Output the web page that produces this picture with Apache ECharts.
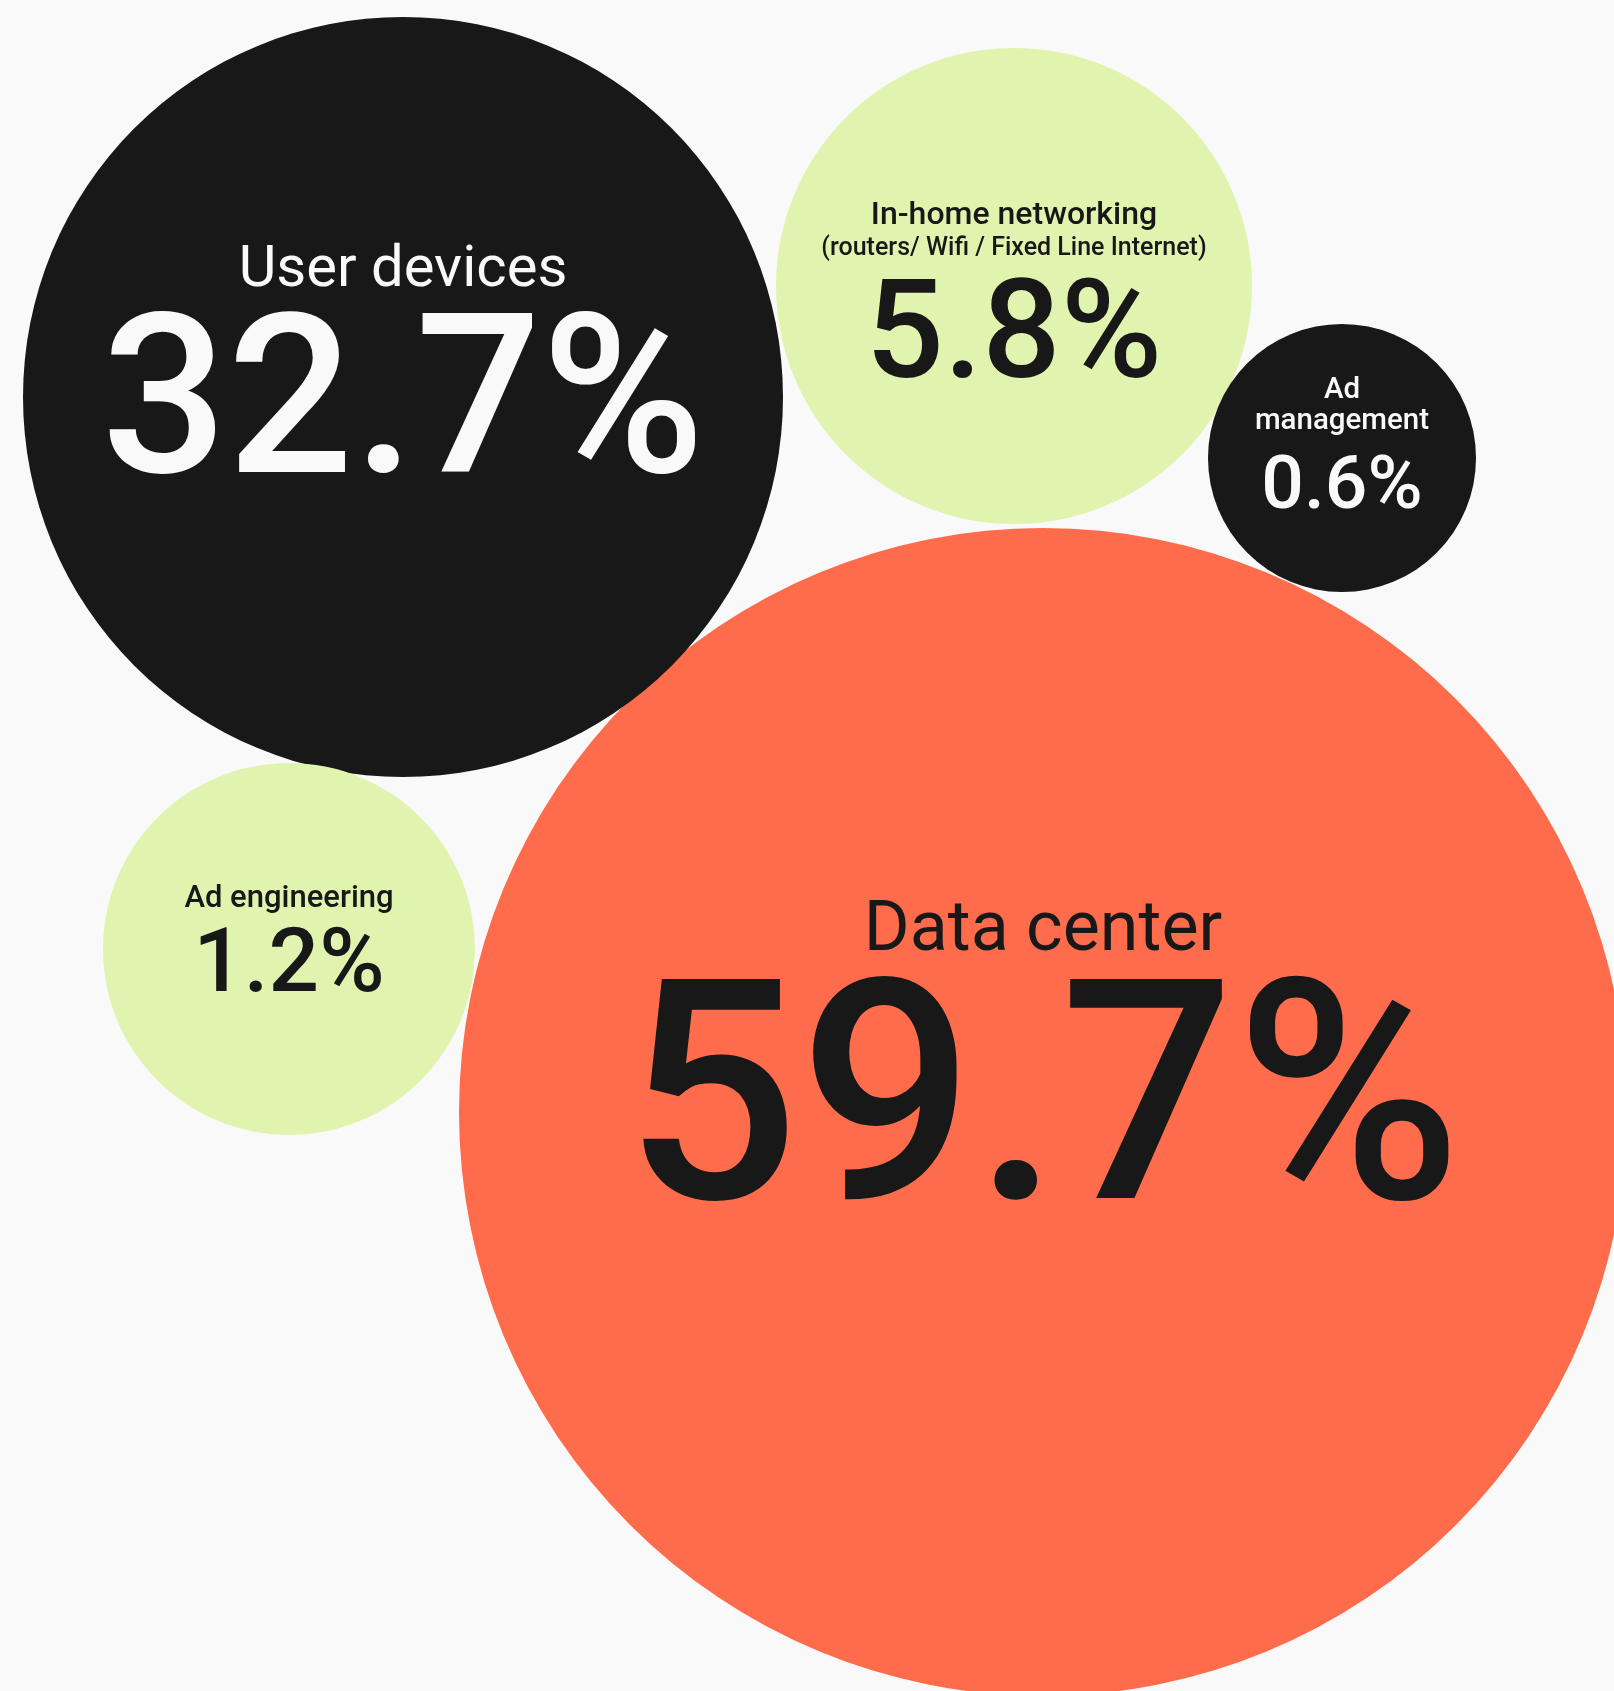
<!DOCTYPE html>
<html>
<head>
<meta charset="utf-8">
<script src="https://cdn.jsdelivr.net/npm/echarts@6/dist/echarts.min.js"></script>
<style>
  html, body { margin: 0; padding: 0; background: #f9f9f9; }
  #chart { width: 1614px; height: 1691px; }
</style>
</head>
<body>
<div id="chart"></div>
<script>
// ---- data ----
const categories = ['Data center', 'User devices', 'In-home networking', 'Ad management', 'Ad engineering'];
const subLabels  = ['', '', '(routers/ Wifi / Fixed Line Internet)', '', ''];
const shares     = [59.7, 32.7, 5.8, 0.6, 1.2];

// ---- layout (packed-bubble placement, in canvas units) ----
const centerX  = [1043, 403, 1014, 1342, 289];
const centerY  = [1112, 397, 286, 458, 949];
const radius   = [584, 380, 238, 134, 186];
const labelDy  = [-28, -12, 23, 0, 3];
const wrapName = [false, false, false, true, false];

// ---- styles ----
const fills     = ['#ff6c4b', '#181818', '#e1f4af', '#181818', '#e1f4af'];
const textCols  = ['#181818', '#f9f9f9', '#181818', '#f9f9f9', '#181818'];
const nameSize  = [70, 58, 32, 29.5, 31];
const nameW     = [400, 400, 500, 500, 500];
const nameLH    = [74, 62, 36, 31, 34];
const subSize   = [0, 0, 25, 0, 0];
const subLH     = [0, 0, 30, 0, 0];
const valSize   = [308, 222, 138, 75, 89];
const valLH     = [303, 227, 156, 104, 106];
const FONT = 'Roboto, "Noto Sans", sans-serif';

const data = categories.map((name, i) => {
  const nameText = wrapName[i] ? name.split(' ').map(s => '{n|' + s + '}').join('\n') : '{n|' + name + '}';
  let txt = nameText;
  if (subLabels[i]) txt += '\n{s|' + subLabels[i] + '}';
  txt += '\n{v|' + shares[i].toFixed(1) + '%}';
  return {
    name: name,
    value: [centerX[i], centerY[i], shares[i]],
    symbolSize: radius[i] * 2,
    itemStyle: { color: fills[i], opacity: 1 },
    label: {
      show: true,
      position: 'inside',
      offset: [0, labelDy[i]],
      align: 'center',
      verticalAlign: 'middle',
      opacity: 1,
      formatter: () => txt,
      rich: {
        n: { fontFamily: FONT, fontSize: nameSize[i], lineHeight: nameLH[i], fontWeight: nameW[i], color: textCols[i], align: 'center' },
        s: { fontFamily: FONT, fontSize: subSize[i] || 12, lineHeight: subLH[i] || 12, fontWeight: 500, color: textCols[i], align: 'center' },
        v: { fontFamily: FONT, fontSize: valSize[i], lineHeight: valLH[i], fontWeight: 500, color: textCols[i], align: 'center' }
      }
    }
  };
});

const chart = echarts.init(document.getElementById('chart'), null, { renderer: 'canvas' });
chart.setOption({
  backgroundColor: '#f9f9f9',
  animation: false,
  grid: { left: 0, right: 0, top: 0, bottom: 0 },
  xAxis: { type: 'value', min: 0, max: 1614, show: false },
  yAxis: { type: 'value', min: 0, max: 1691, inverse: true, show: false },
  series: [{
    type: 'scatter',
    symbol: 'circle',
    clip: false,
    silent: true,
    itemStyle: { opacity: 1 },
    emphasis: { disabled: true },
    data: data
  }]
});
</script>
</body>
</html>
